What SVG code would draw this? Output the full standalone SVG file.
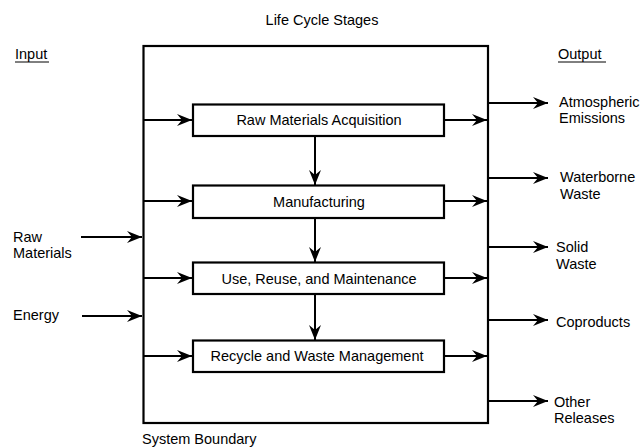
<svg xmlns="http://www.w3.org/2000/svg" width="643" height="447" viewBox="0 0 643 447">
<defs>
<marker id="ah" markerUnits="userSpaceOnUse" markerWidth="16" markerHeight="13" refX="15" refY="6" orient="auto" overflow="visible">
<path d="M0,0 L15,6 L0,12 L5,6 Z" fill="#000"/>
</marker>
<style>
text{font-family:"Liberation Sans",Arial,sans-serif;font-size:14.5px;fill:#000}
.c{text-anchor:middle}
.box{fill:#fff;stroke:#000;stroke-width:2.2}
.ln{stroke:#000;stroke-width:2;fill:none}
.ar{stroke:#000;stroke-width:2;fill:none;marker-end:url(#ah)}
</style>
</defs>
<rect width="643" height="447" fill="#fff"/>
<g id="labels">
<text class="c" x="322" y="25">Life Cycle Stages</text>
<text x="15" y="59">Input</text>
<line class="ln" x1="15" y1="62" x2="49" y2="62" style="stroke-width:1"/>
<text x="558" y="59">Output</text>
<line class="ln" x1="558" y1="62" x2="606" y2="62" style="stroke-width:1"/>
<text x="142" y="444">System Boundary</text>
</g>
<g id="boundary">
<rect x="143.5" y="46" width="344.5" height="377" fill="none" stroke="#000" stroke-width="2.2"/>
</g>
<g id="connectors">
<line class="ar" x1="143.5" y1="120" x2="192" y2="120"/>
<line class="ar" x1="143.5" y1="201" x2="192" y2="201"/>
<line class="ar" x1="143.5" y1="278" x2="192" y2="278"/>
<line class="ar" x1="143.5" y1="356" x2="192" y2="356"/>
<line class="ar" x1="444" y1="120" x2="487" y2="120"/>
<line class="ar" x1="444" y1="201" x2="487" y2="201"/>
<line class="ar" x1="444" y1="278" x2="487" y2="278"/>
<line class="ar" x1="444" y1="356" x2="487" y2="356"/>
<line class="ar" x1="315" y1="136" x2="315" y2="185"/>
<line class="ar" x1="315" y1="218" x2="315" y2="262"/>
<line class="ar" x1="315" y1="294" x2="315" y2="340"/>
<line class="ar" x1="81" y1="237" x2="142" y2="237"/>
<line class="ar" x1="82" y1="316" x2="142" y2="316"/>
<line class="ar" x1="488" y1="103" x2="548" y2="103"/>
<line class="ar" x1="488" y1="178" x2="548" y2="178"/>
<line class="ar" x1="488" y1="247" x2="548" y2="247"/>
<line class="ar" x1="488" y1="320" x2="548" y2="320"/>
<line class="ar" x1="488" y1="401" x2="548" y2="401"/>
</g>
<g id="stage-raw">
<rect class="box" x="193" y="104.5" width="251" height="31.5"/>
<text class="c" x="319" y="125">Raw Materials Acquisition</text>
</g>
<g id="stage-manufacturing">
<rect class="box" x="193" y="185.5" width="251" height="32.5"/>
<text class="c" x="319" y="207">Manufacturing</text>
</g>
<g id="stage-use">
<rect class="box" x="193" y="262.5" width="251" height="31.5"/>
<text class="c" x="319" y="284">Use, Reuse, and Maintenance</text>
</g>
<g id="stage-recycle">
<rect class="box" x="193" y="340.5" width="251" height="31.5"/>
<text class="c" x="317" y="361">Recycle and Waste Management</text>
</g>
<g id="inputs">
<text x="13" y="242">Raw</text>
<text x="13" y="258">Materials</text>
<text x="13" y="320">Energy</text>
</g>
<g id="outputs">
<text x="559" y="107">Atmospheric</text>
<text x="559" y="123">Emissions</text>
<text x="560" y="182">Waterborne</text>
<text x="560" y="199">Waste</text>
<text x="556" y="252">Solid</text>
<text x="556" y="269">Waste</text>
<text x="556" y="327">Coproducts</text>
<text x="554" y="407">Other</text>
<text x="554" y="423">Releases</text>
</g>
</svg>
